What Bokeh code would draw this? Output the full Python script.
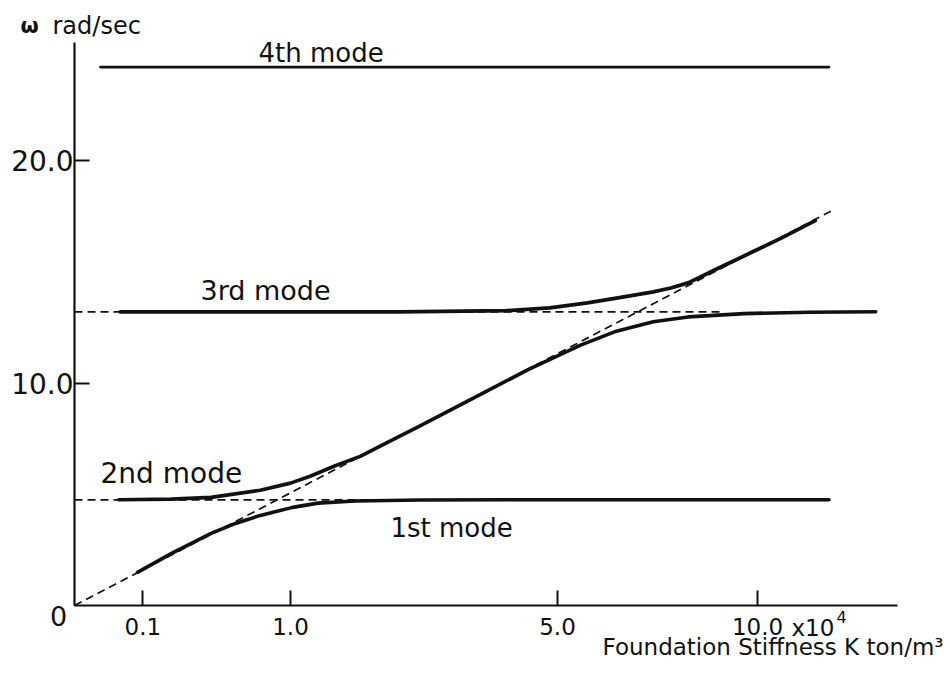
import numpy as np
from bokeh.plotting import figure
from bokeh.models import Range1d, FixedTicker, Label, CustomJSTickFormatter
from bokeh.embed import file_html
from bokeh.resources import INLINE

# ---- data: K in x10^4 ton/m^3, omega in rad/sec ----
mode1_K = [0.085, 0.2, 0.4, 0.56, 0.74, 1.02, 1.27, 1.69, 2.56, 4.0, 6.25, 9.0, 12.2]
mode1_w = [1.49, 2.33, 3.24, 3.70, 4.05, 4.41, 4.60, 4.70, 4.74, 4.75, 4.75, 4.75, 4.75]

mode2_K = [0.042, 0.2, 0.4, 0.74, 1.0, 1.19, 1.45, 1.75, 2.1, 2.56, 3.41, 4.41, 5.49, 6.25, 7.18, 8.07, 9.61, 11.56, 13.76]
mode2_w = [4.75, 4.78, 4.86, 5.18, 5.50, 5.81, 6.27, 6.70, 7.33, 8.07, 9.32, 10.6, 11.7, 12.3, 12.75, 12.97, 13.12, 13.18, 13.2]

mode3_K = [0.045, 1.0, 2.25, 4.0, 4.84, 5.64, 6.4, 7.18, 7.62, 8.07, 8.94, 9.8, 10.69, 11.76]
mode3_w = [13.2, 13.2, 13.2, 13.25, 13.38, 13.6, 13.85, 14.1, 14.27, 14.5, 15.2, 15.85, 16.5, 17.3]

mode4_K = [0.0145, 12.2]
mode4_w = [24.2, 24.2]

asym_diag_K = [0.0, 12.3]
asym_diag_w = [0.0, 17.75]
asym_low_K = [0.0, 1.9]
asym_low_w = [4.75, 4.75]
asym_high_K = [0.0, 9.0]
asym_high_w = [13.2, 13.2]

x_ticks = [0.1, 1.0, 5.0, 10.0]
y_ticks = [10.0, 20.0]

# ---- layout helpers (pixel -> data, for text placement only) ----
X0, XS = 74.0, 216.0
Y0, YS = 605.0, 22.25
def sx(px):
    return (px - X0) / XS
def wy(py):
    return (Y0 - py) / YS

p = figure(width=950, height=677, output_backend="svg", toolbar_location=None,
           x_range=Range1d(sx(0), sx(950)), y_range=Range1d(wy(677), wy(0)),
           min_border_left=0, min_border_right=0, min_border_top=0, min_border_bottom=0)
p.grid.visible = False
p.outline_line_color = None
p.background_fill_color = "white"
p.border_fill_color = "white"

sq = lambda a: np.sqrt(np.array(a, dtype=float))

# dashed asymptotes
for K, w in [(asym_diag_K, asym_diag_w), (asym_low_K, asym_low_w), (asym_high_K, asym_high_w)]:
    p.line(sq(K), w, line_color="#111111", line_width=1.7, line_dash="8 5")

# solid mode curves
for K, w, lw in [(mode1_K, mode1_w, 3.6), (mode2_K, mode2_w, 3.6), (mode3_K, mode3_w, 3.8), (mode4_K, mode4_w, 2.8)]:
    p.line(sq(K), w, line_color="#111111", line_width=lw, line_cap="round", line_join="round")

# axes, pinned at the origin
p.xaxis.fixed_location = 0
p.yaxis.fixed_location = 0
p.xaxis.bounds = (0, sx(897))
p.yaxis.bounds = (0, wy(42))
p.xaxis.ticker = FixedTicker(ticks=list(np.sqrt(x_ticks)))
p.xaxis.formatter = CustomJSTickFormatter(code="return (tick*tick).toFixed(1);")
p.yaxis.ticker = FixedTicker(ticks=y_ticks)
p.yaxis.formatter = CustomJSTickFormatter(code="return tick.toFixed(1);")
for ax in (p.xaxis, p.yaxis):
    ax.axis_line_width = 2.2
    ax.axis_line_color = "#111111"
    ax.major_tick_line_width = 2
    ax.major_tick_line_color = "#111111"
    ax.major_tick_in = 15
    ax.major_tick_out = 0
    ax.minor_tick_line_color = None
    ax.major_label_text_color = "#111111"
    ax.major_label_text_font = "DejaVu Sans"
p.xaxis.major_label_text_font_size = "23px"
p.xaxis.major_label_standoff = 12
p.yaxis.major_label_text_font_size = "28px"
p.yaxis.major_label_standoff = 1

F = "DejaVu Sans"
DY = 10  # baseline correction
def lab(px, py, text, size, align="left", style="normal"):
    p.add_layout(Label(x=sx(px), y=wy(py - DY), text=text, text_font=F, text_font_size=size,
                       text_align=align, text_baseline="alphabetic", text_color="#111111",
                       text_font_style=style))

lab(20, 35, "ω", "21px", style="bold")
lab(52, 35, "rad/sec", "24px")
lab(258, 62, "4th mode", "26px")
lab(200, 300, "3rd mode", "27px")
lab(100, 483, "2nd mode", "28px")
lab(390, 537, "1st mode", "26px")
lab(58, 625, "0", "27px", align="center")
lab(791, 637, "x10", "23px")
lab(836, 626, "4", "16px")
lab(943, 656, "Foundation Stiffness K ton/m³", "23px", align="right")

open("out.html", "w").write(file_html(p, INLINE))
